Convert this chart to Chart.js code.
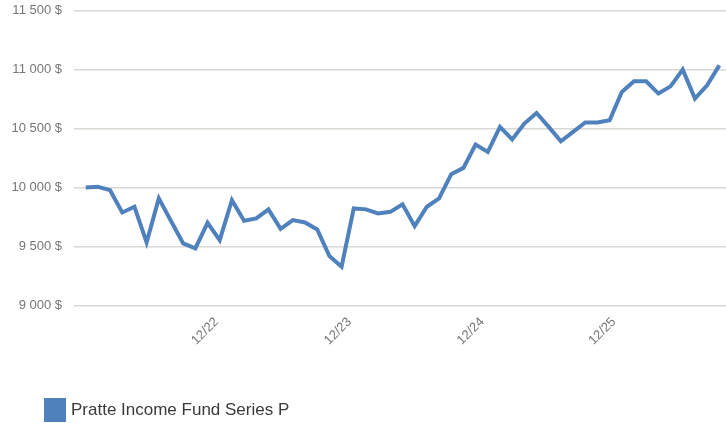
<!DOCTYPE html>
<html>
<head>
<meta charset="utf-8">
<script src="https://cdn.jsdelivr.net/npm/chart.js@4"></script>
<style>
  html, body { margin: 0; padding: 0; background: #fff; }
  #wrap { position: relative; width: 726px; height: 423px; overflow: hidden; }
  #c { position: absolute; left: 0; top: 0; }
  #legend { position: absolute; left: 44px; top: 398px; display: flex; align-items: center; font-family: "Liberation Sans", Arial, sans-serif; font-size: 17px; color: #3a3a3a; }
  #legend .box { width: 22px; height: 24px; background: #4f81bd; margin-right: 5px; }
</style>
</head>
<body>
<div id="wrap">
  <canvas id="c" width="726" height="423"></canvas>
  <div id="legend"><span class="box"></span><span id="legendText"></span></div>
</div>
<script>
const seriesName = "Pratte Income Fund Series P";
const values = [
  10000, 10005, 9977, 9788, 9836, 9534, 9907, 9715, 9525, 9483,
  9700, 9553, 9892, 9717, 9737, 9814, 9649, 9723, 9703, 9644,
  9418, 9327, 9822, 9814, 9780, 9793, 9858, 9672, 9836, 9907,
  10113, 10166, 10364, 10302, 10514, 10407, 10542, 10632, 10514, 10392,
  10471, 10551, 10551, 10570, 10810, 10901, 10901, 10797, 10858, 11000,
  10754, 10867, 11036
];
const tickLabels = ["12/22", "12/23", "12/24", "12/25"];
const tickPositions = [10.75, 21.65, 32.55, 43.35];
const yTicks = [9000, 9500, 10000, 10500, 11000, 11500];

document.getElementById('legendText').textContent = seriesName;

const points = values.map((v, i) => ({ x: i, y: v }));
const fmt = v => String(v).replace(/\B(?=(\d{3})+(?!\d))/g, ' ') + ' $';

new Chart(document.getElementById('c'), {
  type: 'line',
  data: {
    datasets: [{
      label: seriesName,
      data: points,
      borderColor: '#4f81bd',
      backgroundColor: '#4f81bd',
      borderWidth: 4,
      pointRadius: 0,
      tension: 0,
      fill: false
    }]
  },
  options: {
    responsive: false,
    animation: false,
    layout: { autoPadding: false, padding: { top: 10.7, left: 0, right: 0, bottom: 0 } },
    plugins: { legend: { display: false }, tooltip: { enabled: false } },
    scales: {
      x: {
        type: 'linear',
        min: -0.96,
        max: 52.55,
        grid: { display: false, drawTicks: false },
        border: { display: false },
        afterBuildTicks: s => { s.ticks = tickPositions.map(v => ({ value: v })); },
        afterFit: s => { s.height = 423 - 305.3; s.paddingLeft = 0; s.paddingRight = 0; },
        ticks: {
          autoSkip: false,
          minRotation: 45,
          maxRotation: 45,
          padding: 9,
          color: '#777',
          font: { family: '"Liberation Sans", Arial, sans-serif', size: 13 },
          callback: (v) => {
            const i = tickPositions.indexOf(v);
            return i >= 0 ? tickLabels[i] : '';
          }
        }
      },
      y: {
        min: 9000,
        max: 11500,
        afterBuildTicks: s => { s.ticks = yTicks.map(v => ({ value: v })); },
        afterFit: s => { s.width = 74; s.paddingTop = 0; s.paddingBottom = 0; },
        grid: { color: '#d9d8d2', lineWidth: 1.6, drawTicks: false },
        border: { display: false },
        ticks: {
          padding: 12,
          color: '#777',
          font: { family: '"Liberation Sans", Arial, sans-serif', size: 13 },
          callback: v => fmt(v)
        }
      }
    }
  }
});
</script>
</body>
</html>
